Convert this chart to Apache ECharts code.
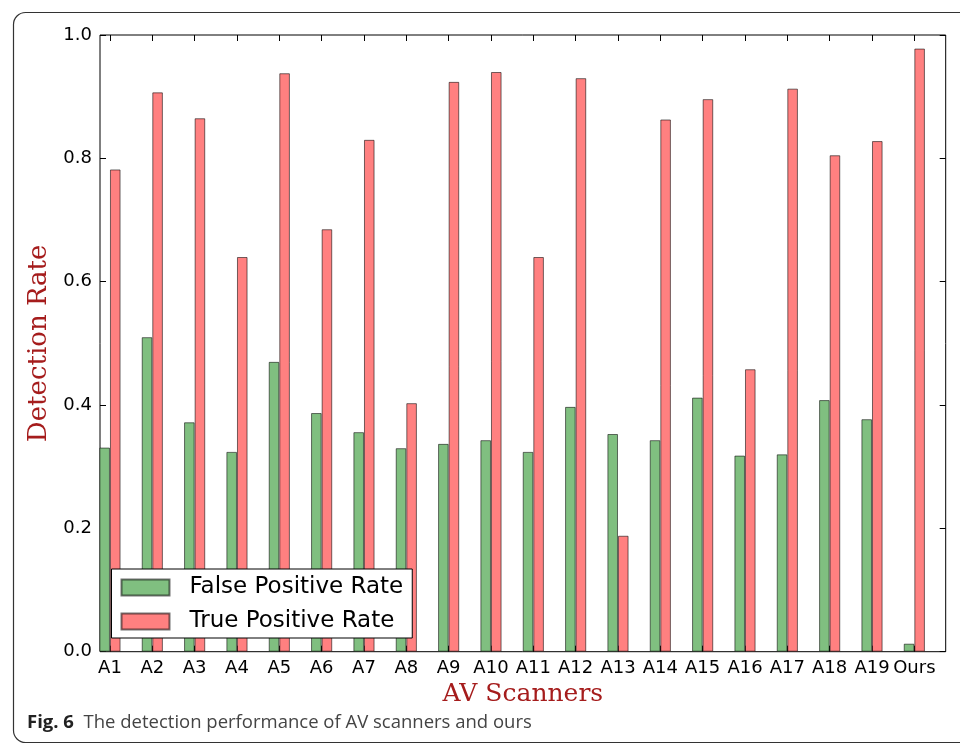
<!DOCTYPE html>
<html><head><meta charset="utf-8">
<script src="https://cdn.jsdelivr.net/npm/echarts@6/dist/echarts.min.js"></script>
<style>html,body{margin:0;padding:0;background:#fff}#c{width:960px;height:744px}</style>
</head><body><div id="c"></div>
<script>
const categories = ['A1','A2','A3','A4','A5','A6','A7','A8','A9','A10','A11','A12','A13','A14','A15','A16','A17','A18','A19','Ours'];
const falsePositiveRate = [0.331,0.510,0.372,0.324,0.470,0.387,0.356,0.330,0.337,0.343,0.324,0.397,0.353,0.343,0.412,0.318,0.320,0.408,0.377,0.013];
const truePositiveRate = [0.782,0.907,0.865,0.640,0.938,0.685,0.830,0.403,0.924,0.940,0.640,0.930,0.188,0.863,0.896,0.458,0.913,0.805,0.828,0.978];
const yTicks = [0,0.2,0.4,0.6,0.8,1.0];

const chart = echarts.init(document.getElementById('c'), null, {renderer:'canvas'});
const tickFont = 'DejaVu Sans';
chart.setOption({
  animation:false,
  backgroundColor:'#fff',
  grid:[
    {left:88.8, right:24.5, top:35, bottom:92.3},
    {left:100, right:14.3, top:35, bottom:92.3, show:true, borderColor:'#000', borderWidth:1, backgroundColor:'transparent'}
  ],
  xAxis:[
    {type:'category', gridIndex:0, data:categories, position:'bottom', boundaryGap:true,
     axisLine:{show:false}, axisTick:{show:true, inside:true, alignWithLabel:true, length:6, lineStyle:{color:'#000'}},
     axisLabel:{interval:0, hideOverlap:false, margin:8, color:'#000', fontFamily:tickFont, fontSize:18}},
    {type:'category', gridIndex:0, data:categories, position:'top', boundaryGap:true,
     axisLine:{show:false}, axisTick:{show:true, inside:true, alignWithLabel:true, length:6, lineStyle:{color:'#000'}},
     axisLabel:{show:false}},
    {type:'value', gridIndex:1, min:0, max:1, position:'bottom',
     axisLine:{show:false}, axisTick:{show:false}, axisLabel:{show:false}, splitLine:{show:false},
     name:'AV Scanners', nameLocation:'middle', nameGap:30,
     nameTextStyle:{fontFamily:'DejaVu Serif', fontSize:25, color:'#a51c1c'}}
  ],
  yAxis:[
    {type:'value', gridIndex:0, min:0, max:1, show:false},
    {type:'value', gridIndex:1, min:0, max:1, interval:0.2, position:'left',
     axisLine:{show:false}, splitLine:{show:false},
     axisTick:{show:true, inside:true, length:6, lineStyle:{color:'#000'}},
     axisLabel:{color:'#000', fontFamily:tickFont, fontSize:18, margin:8, formatter:v=>v.toFixed(1)},
     name:'Detection Rate', nameLocation:'middle', nameGap:41,
     nameTextStyle:{fontFamily:'DejaVu Serif', fontSize:26, color:'#a51c1c'}},
    {type:'value', gridIndex:1, min:0, max:1, interval:0.2, position:'right',
     axisLine:{show:false}, splitLine:{show:false},
     axisTick:{show:true, inside:true, length:6, lineStyle:{color:'#000'}},
     axisLabel:{show:false}}
  ],
  legend:{
    orient:'vertical', left:111.5, top:569, itemWidth:48, itemHeight:16, itemGap:11,
    padding:[7,9,5,9], backgroundColor:'#fff', borderColor:'#000', borderWidth:1, borderRadius:0,
    icon:'rect',
    textStyle:{fontFamily:tickFont, fontSize:23, color:'#000', padding:[0,0,0,15]},
    data:['False Positive Rate','True Positive Rate']
  },
  series:[
    {name:'False Positive Rate', type:'bar', xAxisIndex:0, yAxisIndex:0, data:falsePositiveRate,
     barWidth:'25%', barGap:'0%',
     itemStyle:{color:'#80bf80', borderColor:'rgba(0,0,0,0.55)', borderWidth:1}},
    {name:'True Positive Rate', type:'bar', xAxisIndex:0, yAxisIndex:0, data:truePositiveRate,
     barWidth:'25%', barGap:'0%',
     itemStyle:{color:'#ff8080', borderColor:'rgba(0,0,0,0.55)', borderWidth:1}}
  ],
  graphic:[
    {type:'rect', left:11, top:10, shape:{width:970, height:730, r:12}, silent:true,
     style:{fill:'none', stroke:'#333', lineWidth:1.2}, z:-1},
    {type:'text', left:27, top:713,
     style:{text:'{b|Fig. 6}  The detection performance of AV scanners and ours',
       rich:{b:{fontWeight:'bold', fontFamily:'Open Sans', fontSize:18.5, fill:'#222'}},
       fontFamily:'Open Sans', fontSize:18.5, fill:'#444'}}
  ]
});
</script></body></html>
